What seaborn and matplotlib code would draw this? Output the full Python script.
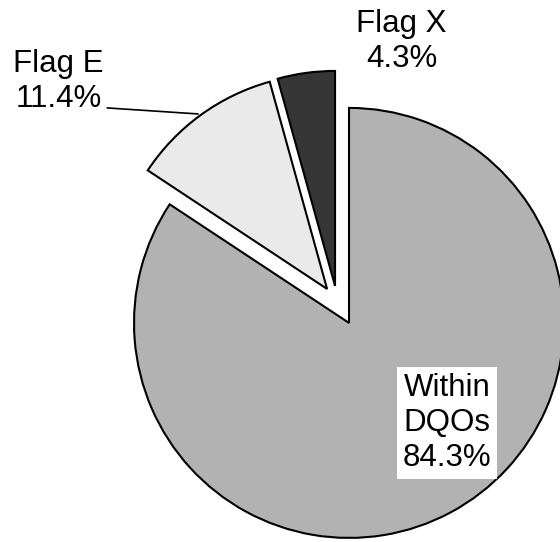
import matplotlib
matplotlib.use("Agg")
import matplotlib.pyplot as plt
import seaborn as sns
import numpy as np

categories = ["Within\nDQOs", "Flag E", "Flag X"]
values = [84.3, 11.4, 4.3]
colors = ["#b2b2b2", "#eaeaea", "#363636"]
# offsets of exploded slices (in radius units)
offsets = [(0.0, 0.0), (-0.102, 0.158), (-0.065, 0.172)]

sns.set_theme(style="white")
plt.rcParams['font.family'] = ['Liberation Sans', 'DejaVu Sans']
plt.rcParams['text.color'] = 'black'

fig = plt.figure(figsize=(5.6, 5.42), dpi=100)
ax = fig.add_axes([0, 0, 1, 1])
wedges, _ = ax.pie(values, colors=colors, startangle=90,
                   counterclock=False, radius=1.0,
                   wedgeprops=dict(edgecolor="black", linewidth=1.5))
for w, (dx, dy) in zip(wedges, offsets):
    w.set_center((dx, dy))
ax.set_xlim(-1.623, 0.981)
ax.set_ylim(-1.019, 1.502)
ax.set_aspect("equal")
ax.axis("off")

fs = 22.5
ls = 1.22
# Within DQOs label
ax.text(0.455, -0.465, f"{categories[0]}\n{values[0]:.1f}%", ha="center", va="center",
        fontsize=fs, linespacing=ls, color="black",
        bbox=dict(facecolor="white", edgecolor="none", pad=4))
# Flag X label
ax.text(0.245, 1.307, f"{categories[2]}\n{values[2]:.1f}%", ha="center", va="center",
        fontsize=fs, linespacing=ls, color="black")
# Flag E label with leader line
ax.text(-1.352, 1.125, f"{categories[1]}\n{values[1]:.1f}%", ha="center", va="center",
        fontsize=fs, linespacing=ls, color="black")
ax.plot([-1.125, -0.702], [1.0, 0.972], color="black", lw=1.2)

fig.savefig("out.png", dpi=100)
